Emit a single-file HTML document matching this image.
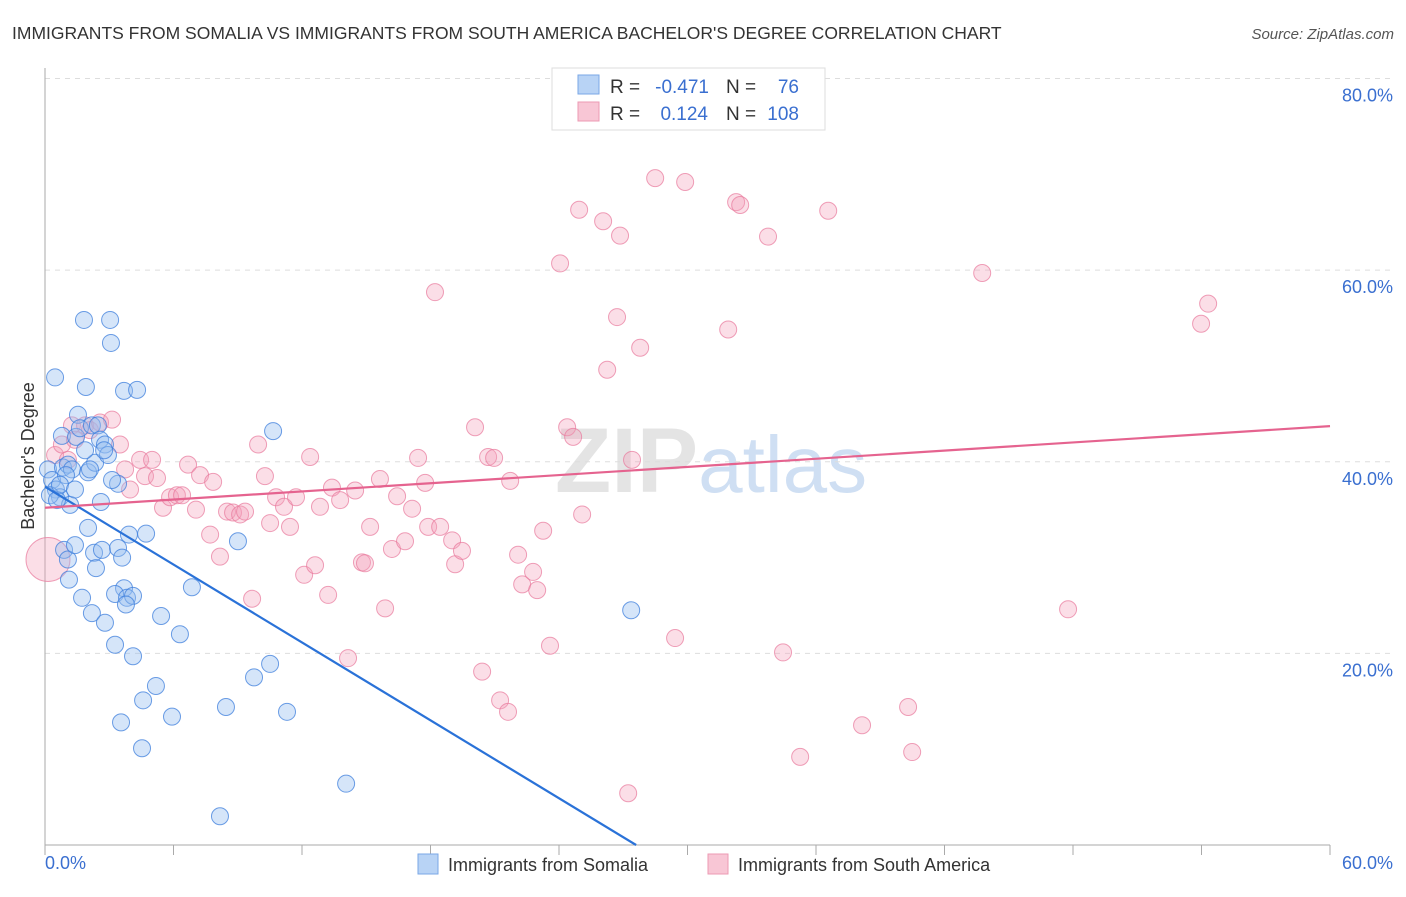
<!DOCTYPE html>
<html><head><meta charset="utf-8"><style>
body{margin:0;background:#fff;font-family:"Liberation Sans",sans-serif}
svg text{font-family:"Liberation Sans",sans-serif}
</style></head><body>
<svg id="chart" width="1406" height="892" xmlns="http://www.w3.org/2000/svg">
<text x="12" y="39" font-size="17.5" fill="#333">IMMIGRANTS FROM SOMALIA VS IMMIGRANTS FROM SOUTH AMERICA BACHELOR'S DEGREE CORRELATION CHART</text>
<text x="1394" y="39" font-size="15" fill="#555" font-style="italic" text-anchor="end">Source: ZipAtlas.com</text>
<text x="555" y="492" font-size="92" fill="#e4e4e4" font-family="Liberation Serif" font-weight="bold">ZIP<tspan fill="#cfdff3" font-family="Liberation Sans" font-weight="normal" font-size="80">atlas</tspan></text>
<g id="grid"></g>
<g id="axes"></g>
<g id="pinkpts"></g>
<g id="bluepts"></g>
<g id="trends"></g>
<text transform="translate(34,456) rotate(-90)" font-size="18" fill="#333" text-anchor="middle">Bachelor's Degree</text>
<g>
<rect x="552" y="68" width="273" height="62" fill="#fff" stroke="#ddd"/>
<rect x="578" y="75" width="21" height="19" fill="#b8d3f5" stroke="#7aa7e6"/>
<rect x="578" y="102" width="21" height="19" fill="#f8c6d5" stroke="#ec9ab3"/>
<text x="610" y="93" font-size="19" fill="#333">R =</text><text x="709" y="93" font-size="19" fill="#3a6fd0" text-anchor="end">-0.471</text>
<text x="726" y="93" font-size="19" fill="#333">N =</text><text x="799" y="93" font-size="19" fill="#3a6fd0" text-anchor="end">76</text>
<text x="610" y="120" font-size="19" fill="#333">R =</text><text x="708" y="120" font-size="19" fill="#3a6fd0" text-anchor="end">0.124</text>
<text x="726" y="120" font-size="19" fill="#333">N =</text><text x="799" y="120" font-size="19" fill="#3a6fd0" text-anchor="end">108</text>
</g>
<g>
<rect x="418" y="854" width="20" height="20" fill="#b8d3f5" stroke="#7aa7e6"/>
<text x="448" y="871" font-size="18" fill="#333">Immigrants from Somalia</text>
<rect x="708" y="854" width="20" height="20" fill="#f8c6d5" stroke="#ec9ab3"/>
<text x="738" y="871" font-size="18" fill="#333">Immigrants from South America</text>
</g>
</svg>
<script>
const yTicks=[20,40,60,80];
const yTickLabels=["20.0%","40.0%","60.0%","80.0%"];
const xTickCount=10;
const xMin=0,xMax=60,yMin=0,yMax=80;
const blueX=[.47,.14,.33,.51,.70,.84,1.07,1.17,.89,1.07,1.12,1.40,.79,1.45,1.54,1.63,1.91,2.01,2.34,2.19,2.47,2.57,2.80,2.94,2.61,1.82,3.04,3.08,3.69,4.30,2.01,2.29,2.38,1.73,2.19,2.80,3.27,2.66,3.41,3.60,3.41,3.92,4.72,3.69,3.27,3.83,4.11,3.78,4.11,5.42,6.30,6.86,5.18,4.58,5.93,3.55,4.53,9.01,10.65,8.45,9.76,10.51,11.30,14.06,8.17,27.37,.23,.56,1.26,.98,.70,1.87,2.10,2.76,1.40,3.13];
const blueY=[48.8,39.2,38.1,37.1,36.3,39.4,39.7,35.5,30.8,29.8,27.7,31.3,42.7,42.6,44.9,43.5,47.8,38.9,39.9,43.8,43.8,42.3,41.8,40.7,35.8,54.8,54.8,52.4,47.4,47.5,33.1,30.5,28.9,25.8,24.2,23.2,20.9,30.8,31.0,30.0,37.7,32.4,32.5,26.8,26.2,25.8,26.0,25.1,19.7,23.9,22.0,26.9,16.6,15.1,13.4,12.8,10.1,31.7,43.2,14.4,17.5,18.9,13.9,6.4,3.0,24.5,36.5,36.0,39.2,38.6,37.6,41.2,39.2,41.2,37.1,38.1];
const pinkX=[.14,.47,.79,1.07,1.26,1.40,1.87,2.10,2.57,3.13,3.50,3.74,3.97,4.44,4.67,5.00,5.23,5.51,5.84,6.16,6.40,6.68,7.05,7.24,7.71,7.85,8.17,8.50,8.78,9.11,9.34,9.67,9.95,10.27,10.51,10.79,11.16,11.44,11.72,12.10,12.38,12.61,12.84,13.22,13.40,13.78,14.15,14.48,14.80,14.94,15.18,15.64,15.88,16.20,16.44,16.81,17.14,17.42,17.75,17.89,18.21,18.45,19.01,19.15,19.47,20.08,20.41,20.69,20.97,21.25,21.62,21.72,22.09,22.28,22.79,22.98,23.26,23.58,24.05,24.38,24.66,24.94,25.08,26.06,26.25,26.71,26.85,27.23,27.41,27.79,28.49,29.42,29.89,31.90,32.27,32.46,33.76,34.46,35.26,36.57,38.15,40.30,40.49,43.76,47.77,53.98,54.31];
const pinkY=[29.8,40.7,41.8,40.2,43.8,42.3,43.8,43.3,44.1,44.4,41.8,39.2,37.1,40.2,38.5,40.2,38.3,35.2,36.3,36.5,36.5,39.7,35.0,38.6,32.4,37.9,30.1,34.8,34.7,34.5,34.8,25.7,41.8,38.5,33.6,36.3,35.3,33.2,36.3,28.2,40.5,29.2,35.3,26.1,37.3,36.0,19.5,37.0,29.5,29.4,33.2,38.2,24.7,30.9,36.4,31.7,35.1,40.4,37.8,33.2,57.7,33.2,31.8,29.3,30.7,43.6,18.1,40.5,40.4,15.1,13.9,38.0,30.3,27.2,28.5,26.6,32.8,20.8,60.7,43.6,42.6,66.3,34.5,65.1,49.6,55.1,63.6,5.4,40.2,51.9,69.6,21.6,69.2,53.8,67.1,66.8,63.5,20.1,9.2,66.2,12.5,14.4,9.7,59.7,24.6,54.4,56.5];
const blueTrend=[37.4,-1.355];
const pinkTrend=[35.2,0.142];
const L=45,R=1330,T=80,B=845;
const sx=v=>L+(v-xMin)/(xMax-xMin)*(R-L);
const sy=v=>B-(v-yMin)/(yMax-yMin)*(B-T+1.5);
const NS="http://www.w3.org/2000/svg";
function mk(tag,attrs,parent){const e=document.createElementNS(NS,tag);for(const k in attrs)e.setAttribute(k,attrs[k]);parent.appendChild(e);return e;}
const grid=document.getElementById('grid'),axes=document.getElementById('axes');
yTicks.forEach((t,i)=>{
 const ln=mk('line',{x1:L,x2:1394,y1:sy(t),y2:sy(t),stroke:'#ddd','stroke-dasharray':'5,5'},grid);
 
 
 const tx=mk('text',{x:1393,y:sy(t)+23,'font-size':18,fill:'#3a6fd0','text-anchor':'end'},axes);
 tx.textContent=yTickLabels[i];
 
 
});
const ya=mk('line',{x1:L,x2:L,y1:68,y2:B,stroke:'#aaa'},axes);


const xa=mk('line',{x1:L,x2:R,y1:B,y2:B,stroke:'#aaa'},axes);


for(let i=0;i<=xTickCount;i++){
 const v=xMin+i*(xMax-xMin)/xTickCount;
 const tk=mk('line',{x1:sx(v),x2:sx(v),y1:B,y2:B+10,stroke:'#aaa'},axes);
 
 
}
const x0=mk('text',{x:L,y:869,'font-size':18,fill:'#3a6fd0'},axes);x0.textContent='0.0%';


const x1=mk('text',{x:1393,y:869,'font-size':18,fill:'#3a6fd0','text-anchor':'end'},axes);x1.textContent='60.0%';


const pg=document.getElementById('pinkpts');
pinkX.forEach((x,i)=>{
 const c=mk('circle',{cx:sx(x),cy:sy(pinkY[i]),r:i===0?22:8.5,fill:'rgba(244,160,186,0.35)',stroke:'rgba(232,120,155,0.7)','stroke-width':1},pg);
 
 
});
const bg=document.getElementById('bluepts');
blueX.forEach((x,i)=>{
 const c=mk('circle',{cx:sx(x),cy:sy(blueY[i]),r:8.5,fill:'rgba(150,190,240,0.4)',stroke:'rgba(60,125,220,0.75)','stroke-width':1},bg);
 
 
});
const tg=document.getElementById('trends');
const bxEnd=-blueTrend[0]/blueTrend[1];
const bl=mk('line',{x1:sx(0),y1:sy(blueTrend[0]),x2:sx(bxEnd),y2:sy(0),stroke:'#2a72d8','stroke-width':2.2},tg);


const pl=mk('line',{x1:sx(0),y1:sy(pinkTrend[0]),x2:sx(60),y2:sy(pinkTrend[0]+pinkTrend[1]*60),stroke:'#e5638f','stroke-width':2.2},tg);


</script>
</body></html>
